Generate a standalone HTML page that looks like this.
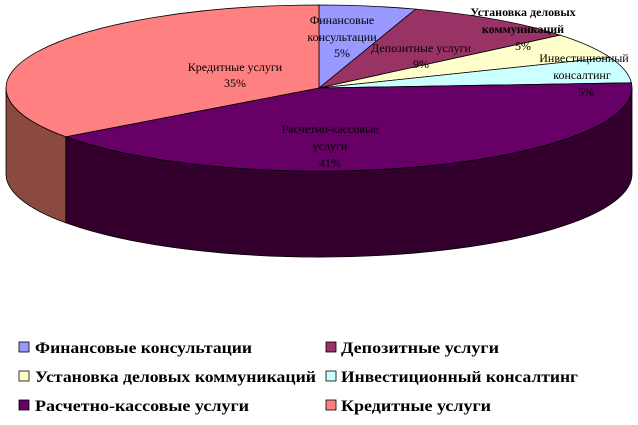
<!DOCTYPE html>
<html><head><meta charset="utf-8"><style>
body{margin:0;background:#fff;width:638px;height:425px;overflow:hidden}
svg{display:block}
.l{font-family:"Liberation Serif","Times New Roman","DejaVu Serif",serif;font-size:12px;fill:#000}
.g{font-family:"Liberation Serif","Times New Roman","DejaVu Serif",serif;font-size:16px;font-weight:bold;fill:#000}
</style></head><body>
<svg width="638" height="425" viewBox="0 0 638 425">
<g stroke="#000" stroke-width="0.8">
<path d="M632,88 A313,83 0 0 1 65.8,136.8 L65.8,222.8 A313,83 0 0 0 632,174 Z" fill="#33002e"/>
<path d="M65.8,136.8 A313,83 0 0 1 6,88 L6,174 A313,83 0 0 0 65.8,222.8 Z" fill="#8a4a40"/>
<path d="M319,88 L319,5 A313,83 0 0 1 415.7,9.1 Z" fill="#9999ff"/>
<path d="M319,88 L415.7,9.1 A313,83 0 0 1 560.2,35.1 Z" fill="#993366"/>
<path d="M319,88 L560.2,35.1 A313,83 0 0 1 610,57.4 Z" fill="#ffffcc"/>
<path d="M319,88 L610,57.4 A313,83 0 0 1 631.4,82.8 Z" fill="#ccffff"/>
<path d="M319,88 L631.4,82.8 A313,83 0 0 1 65.8,136.8 Z" fill="#660066"/>
<path d="M319,88 L65.8,136.8 A313,83 0 0 1 319,5 Z" fill="#ff8080"/>
</g>
<g class="l" text-anchor="middle">
<text x="342" y="24">Финансовые</text><text x="342" y="41">консультации</text><text x="342" y="57">5%</text>
<text x="421" y="52">Депозитные услуги</text><text x="421" y="68">9%</text>
<text x="235" y="71">Кредитные услуги</text><text x="235" y="87">35%</text>
<text x="330" y="133">Расчетно-кассовые</text><text x="330" y="150">услуги</text><text x="330" y="167">41%</text>
<text x="523" y="16" font-weight="bold">Установка деловых</text><text x="523" y="33" font-weight="bold">коммуникаций</text><text x="523" y="50">5%</text>
<text x="584" y="62">Инвестиционный</text><text x="582" y="79">консалтинг</text><text x="586" y="96">5%</text>
</g>
<g stroke="#000" stroke-width="0.8">
<rect x="19" y="342" width="10" height="10" fill="#9999ff"/>
<rect x="326" y="342" width="10" height="10" fill="#993366"/>
<rect x="19" y="371" width="10" height="10" fill="#ffffcc"/>
<rect x="326" y="371" width="10" height="10" fill="#ccffff"/>
<rect x="19" y="400" width="10" height="10" fill="#660066"/>
<rect x="326" y="400" width="10" height="10" fill="#ff8080"/>
</g>
<g class="g">
<text x="35" y="353" textLength="217" lengthAdjust="spacingAndGlyphs">Финансовые консультации</text>
<text x="341" y="353" textLength="158" lengthAdjust="spacingAndGlyphs">Депозитные услуги</text>
<text x="35" y="382" textLength="281" lengthAdjust="spacingAndGlyphs">Установка деловых коммуникаций</text>
<text x="341" y="382" textLength="237" lengthAdjust="spacingAndGlyphs">Инвестиционный консалтинг</text>
<text x="35" y="411" textLength="214" lengthAdjust="spacingAndGlyphs">Расчетно-кассовые услуги</text>
<text x="341" y="411" textLength="150" lengthAdjust="spacingAndGlyphs">Кредитные услуги</text>
</g>
</svg>
</body></html>
